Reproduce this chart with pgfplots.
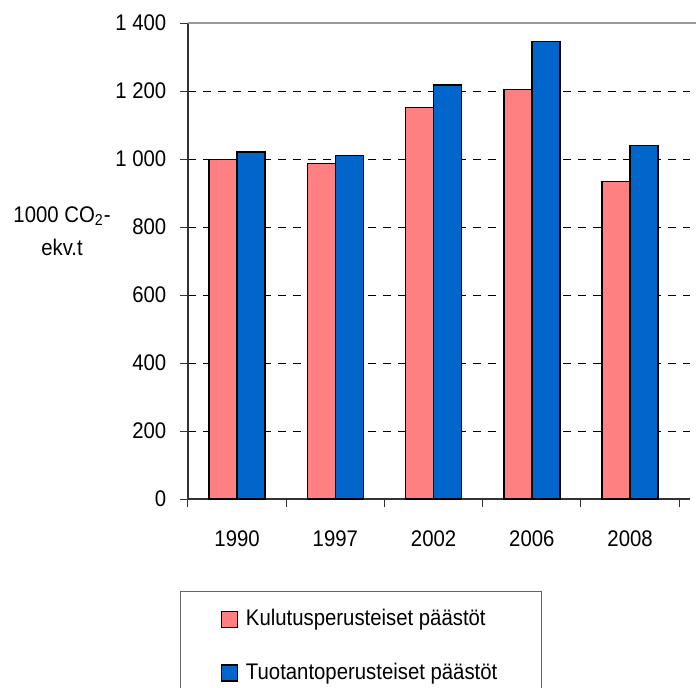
\documentclass[border=0pt,11pt]{standalone}
\usepackage{fontspec}
\setmainfont{Liberation Sans}[FakeStretch=0.9]
\usepackage{pgfplots}
\pgfplotsset{compat=1.18}
\definecolor{pinkbar}{HTML}{FF8080}
\definecolor{bluebar}{HTML}{0066CC}
\begin{document}
\begin{tikzpicture}
\begin{axis}[
  at={(0,0)}, anchor=south west,
  scale only axis, width=251pt, height=238pt,
  xmin=-0.5, xmax=4.61, ymin=0, ymax=1400,
  axis x line*=bottom, axis y line*=left,
  axis line style={draw=black!80, line width=0.6pt, -},
  ybar=0pt, bar width=14pt,
  ytick={0,200,...,1400},
  yticklabel style={font=\fontsize{11.3}{13}\selectfont, xshift=-3pt},
  /pgf/number format/.cd, 1000 sep={\ }, assume math mode=true, /pgfplots/.cd,
  ymajorgrids,
  major grid style={dash pattern=on 4pt off 3.5pt, black, line width=0.4pt},
  xtick={0,...,4}, xticklabels={1990,1997,2002,2006,2008},
  xticklabel style={font=\fontsize{11.3}{13}\selectfont, yshift=-8pt},
  minor xtick={-0.5,0.5,...,4.5},
  major x tick style={draw=none},
  minor x tick style={draw=black!80, line width=0.5pt},
  major y tick style={draw=black!80, line width=0.5pt},
  tick align=outside,
  major tick length=4pt, minor tick length=4pt,
  legend style={at={(-0.0159,-0.1933)}, anchor=north west, draw=black!60, line width=0.5pt,
    inner xsep=20pt, inner ysep=7pt, row sep=13pt, cells={anchor=west},
    font=\fontsize{11.3}{13}\selectfont},
  after end axis/.code={\draw[gray!80, line width=1pt] (rel axis cs:0,1) -- (rel axis cs:1.03,1);},
]
\addplot[fill=pinkbar, draw=black, line width=0.75pt,
  legend image code/.code={\draw[fill=pinkbar, draw=black, line width=0.7pt] (0pt,-4pt) rectangle (8pt,4pt); \path (10pt,0pt);}]
  coordinates {(0,999) (1,987) (2,1152) (3,1205) (4,934)};
\addlegendentry{Kulutusperusteiset päästöt}
\addplot[fill=bluebar, draw=black, line width=0.75pt,
  legend image code/.code={\draw[fill=bluebar, draw=black, line width=0.7pt] (0pt,-4pt) rectangle (8pt,4pt); \path (10pt,0pt);}]
  coordinates {(0,1021) (1,1011) (2,1217) (3,1346) (4,1040)};
\addlegendentry{Tuotantoperusteiset päästöt}
\end{axis}
\node[align=center, font=\fontsize{11.3}{16.5}\selectfont] at (-63pt,134pt) {1000 CO\textsubscript{2}-\\ekv.t};
\pgfresetboundingbox
\useasboundingbox (-94pt,-94pt) rectangle (254pt,249.5pt);
\end{tikzpicture}
\end{document}
